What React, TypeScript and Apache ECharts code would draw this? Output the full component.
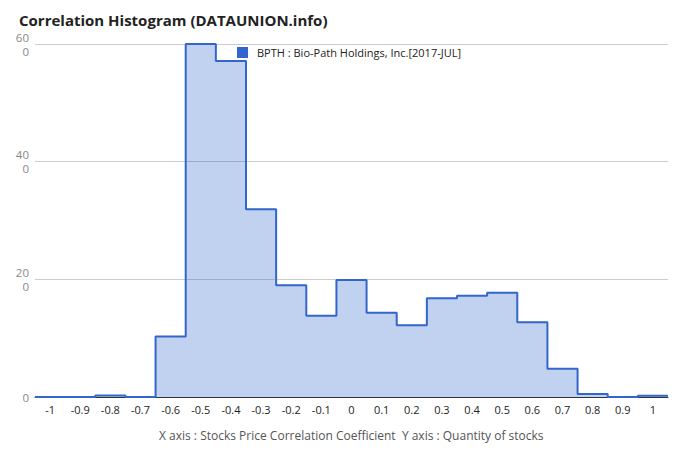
import React, { useEffect, useRef } from "react";
import * as echarts from "echarts";

const binCenters = [-1, -0.9, -0.8, -0.7, -0.6, -0.5, -0.4, -0.3, -0.2, -0.1, 0, 0.1, 0.2, 0.3, 0.4, 0.5, 0.6, 0.7, 0.8, 0.9, 1];
const stockCounts = [0, 0, 0.25, 0, 10.3, 60, 57.1, 31.9, 19.0, 13.8, 19.9, 14.3, 12.2, 16.8, 17.2, 17.7, 12.7, 4.8, 0.5, 0, 0.2];
const yTicks = [0, 20, 40, 60];
const seriesName = "BPTH : Bio-Path Holdings, Inc.[2017-JUL]";
const titleText = "Correlation Histogram (DATAUNION.info)";
const axisCaption = "X axis : Stocks Price Correlation Coefficient  Y axis : Quantity of stocks";

const halfBin = 0.05;

export default function App() {
  const ref = useRef<HTMLDivElement>(null);
  useEffect(() => {
    if (!ref.current) return;
    const chart = echarts.init(ref.current, null, { renderer: "svg" });
    const data: number[][] = [[binCenters[0] - halfBin, 0]];
    binCenters.forEach((c, i) => data.push([+(c + halfBin).toFixed(2), stockCounts[i]]));
    const font = "'Open Sans', 'Noto Sans', sans-serif";
    chart.setOption({
      animation: false,
      textStyle: { fontFamily: font },
      title: {
        text: titleText,
        left: 14,
        top: 7,
        textStyle: { fontSize: 15, fontWeight: "bold", color: "#222", fontFamily: font },
      },
      legend: {
        data: [seriesName],
        left: 232,
        top: 42,
        icon: "rect",
        itemWidth: 11,
        itemHeight: 11,
        itemGap: 5,
        textStyle: { fontSize: 11, color: "#222", fontFamily: font, padding: [0, 0, 0, 4] },
      },
      grid: { left: 35, right: 12, top: 44, bottom: 65 },
      xAxis: {
        type: "value",
        min: -1.05,
        max: 1.05,
        interval: 0.05,
        axisLine: { show: true, lineStyle: { color: "#333" } },
        axisTick: { show: false },
        splitLine: { show: false },
        axisLabel: {
          fontSize: 11,
          color: "#222",
          margin: 7,
          showMinLabel: false,
          showMaxLabel: false,
          formatter: (v: number) => {
            const k = Math.round(v * 100);
            if (k % 10 !== 0) return "";
            return String(k / 100);
          },
        },
      },
      yAxis: {
        type: "value",
        min: yTicks[0],
        max: yTicks[yTicks.length - 1],
        interval: 20,
        axisLine: { show: false },
        axisTick: { show: false },
        splitLine: { lineStyle: { color: "#cccccc", width: 1 } },
        axisLabel: {
          fontSize: 11.5,
          color: "#888",
          margin: 6,
          lineHeight: 14,
          formatter: (v: number) => (v === 0 ? "0" : v + "\n0"),
        },
      },
      series: [
        {
          name: seriesName,
          type: "line",
          step: "start",
          data,
          showSymbol: false,
          symbol: "none",
          itemStyle: { color: "#3366cc" },
          lineStyle: { color: "#3366cc", width: 2 },
          areaStyle: { color: "#3366cc", opacity: 0.3 },
        },
      ],
      graphic: [
        {
          type: "text",
          left: 159,
          top: 429,
          style: { text: axisCaption, fontSize: 12, fill: "#555", fontFamily: font },
        },
      ],
    });
    return () => chart.dispose();
  }, []);
  return <div ref={ref} style={{ width: 680, height: 462, position: "absolute", left: 0, top: 0 }} />;
}
